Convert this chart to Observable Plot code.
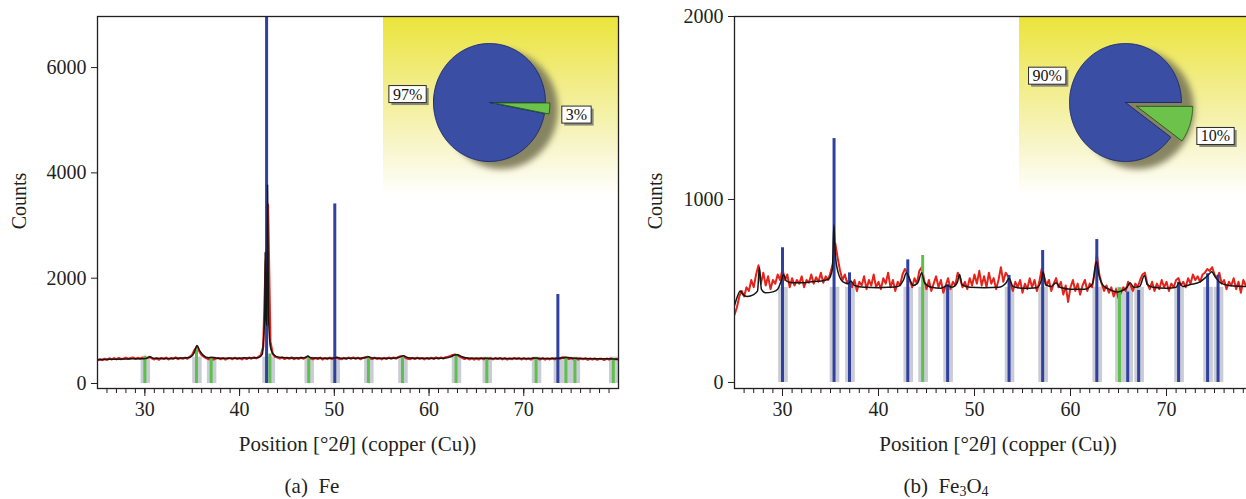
<!DOCTYPE html>
<html><head><meta charset="utf-8">
<script src="https://cdn.jsdelivr.net/npm/d3@7"></script>
<script src="https://cdn.jsdelivr.net/npm/@observablehq/plot@0.6"></script>
<style>
html,body{margin:0;padding:0;overflow:hidden;background:#fff}
body{width:1246px;height:499px;position:relative;font-family:"Liberation Serif","Times New Roman",serif;color:#231f20}
svg text{font-family:"Liberation Serif","Times New Roman",serif !important}
.panel{position:absolute;top:0;height:499px}
.lbl{position:absolute;white-space:nowrap;font-size:21px;line-height:1;color:#231f20;transform:translate(-50%,-50%)}
.rot{transform:translate(-50%,-50%) rotate(-90deg);font-size:20px}
.sub{font-size:14px;position:relative;top:3px}
.grad{position:absolute;z-index:0;background:linear-gradient(to bottom,#ebe43a 0%,#f1ec82 35%,#f7f5c6 70%,#ffffff 100%)}
</style></head><body>
<div id="a" class="panel" style="left:0;width:623px"></div>
<div id="b" class="panel" style="left:623px;width:644px"></div>
<script>
// ---------- data ----------
const thetaStart = 25, thetaStep = 0.25;   // measured scan, 25–80 °2θ
const xTicks = [30, 40, 50, 60, 70];
const feYTicks = [0, 2000, 4000, 6000];
const fe3o4YTicks = [0, 1000, 2000];

// (a) Fe — measured counts (red)
const feMeasured = [
 440,462,445,470,452,478,458,482,460,486,462,474,490,465,482,494,468,486,472,492,
 466,488,504,476,458,480,452,484,466,490,458,482,468,494,464,484,470,490,472,505,
 545,640,700,610,540,508,478,460,480,455,474,484,462,482,456,476,484,462,488,466,
 482,458,486,466,492,472,496,478,504,540,700,2300,3400,800,560,508,494,474,496,466,
 490,470,494,464,486,468,492,472,498,508,474,462,484,466,490,456,482,464,490,466,
 484,498,470,462,486,466,492,472,494,468,490,462,484,498,508,478,466,490,468,482,
 460,486,466,492,472,494,474,504,518,522,490,472,464,486,466,490,468,484,458,482,
 466,488,466,494,472,492,474,498,508,522,542,550,536,512,486,466,484,458,478,454,
 476,456,482,460,484,464,480,458,482,466,484,460,480,456,476,462,484,466,482,458,
 478,460,474,454,478,484,466,458,480,454,474,458,480,460,484,466,490,497,487,466,
 482,458,478,454,474,461,476,451,472,456,476,451,469,466,448,472,454,474,451,466,
 450];
// (a) Fe — calculated profile (black)
const feCalc = [[25,452],[26,458],[27,462],[28,466],[29,470],[29.9,472],[30.2,478],[30.55,510],[30.9,478],[32,475],[33,478],[34,482],[34.8,500],[35.2,580],[35.5,720],[35.8,620],[36.2,530],[36.7,490],[37.2,495],[37.6,480],[39,478],[40,478],[40.5,488],[41,482],[42,495],[42.4,560],[42.55,900],[42.65,1300],[42.7,2500],[42.78,1300],[42.86,1100],[42.95,3770],[43.05,1300],[43.12,1000],[43.25,700],[43.5,570],[43.9,510],[44.5,495],[46,485],[46.9,488],[47.2,520],[47.5,488],[48.5,482],[49.5,478],[50.1,485],[50.4,490],[50.8,480],[52,478],[53.3,490],[53.6,510],[54,482],[55.5,478],[56.5,482],[57.1,515],[57.3,525],[57.8,488],[59,478],[60,478],[61.5,480],[62.3,505],[62.7,540],[63,548],[63.4,515],[64,485],[65.5,478],[67,475],[69,474],[70.5,474],[71.3,486],[71.8,476],[73.5,476],[74.3,490],[74.6,494],[75,484],[76.5,474],[78,470],[79,468],[80,462]];
// (a) Fe — reference sticks
const feMainPos = [42.85, 50.05, 73.6];
const feMainCounts = [6970, 3410, 1690];
const feMinorPos = [30.0, 35.45, 37.0, 43.2, 47.3, 53.6, 57.2, 62.85, 66.1, 71.3, 74.45, 75.4, 79.45];
const feMinorCounts = [520, 660, 500, 560, 500, 510, 520, 540, 490, 490, 500, 490, 470];
const fePhaseShares = [97, 3];
const fePhaseLabels = ["97%", "3%"];

// (b) Fe3O4 — measured counts (red)
const fe3o4Measured = [
 370,410,470,500,470,520,500,560,520,590,640,540,600,530,580,510,560,540,590,560,
 620,560,590,520,570,530,560,540,580,520,560,545,590,540,575,550,600,545,580,560,
 600,650,760,680,610,560,590,540,570,520,560,500,550,530,580,510,560,530,590,520,
 550,510,570,540,600,520,560,500,550,530,590,620,600,560,520,570,540,610,630,560,
 510,560,500,540,580,520,560,490,530,570,510,550,530,600,570,520,550,510,570,530,
 590,540,610,530,580,520,600,540,570,510,560,630,550,600,580,540,500,550,520,560,
 490,540,510,570,520,560,500,550,620,580,530,560,500,540,570,520,550,480,530,440,
 520,560,500,540,480,530,560,500,540,520,600,700,590,540,500,530,490,520,470,510,
 460,490,520,500,550,530,500,540,520,560,590,600,540,510,550,500,540,510,560,520,
 550,500,540,520,560,570,530,550,520,570,540,590,560,580,550,590,600,620,610,630,
 590,570,600,540,560,510,550,530,570,510,550,490,560,530,560,500,540,520,560,510,
 540];
// (b) Fe3O4 — calculated profile (black)
const fe3o4Calc = [[25,420],[25.3,470],[25.6,500],[25.9,480],[26.3,470],[27,480],[27.4,500],[27.6,630],[27.8,510],[28.2,490],[29,495],[29.5,510],[29.9,560],[30.1,590],[30.4,555],[31,545],[32,545],[33,550],[34,555],[34.8,565],[35.2,620],[35.35,860],[35.5,700],[35.8,600],[36.3,550],[36.9,540],[37.1,555],[37.5,530],[38.5,520],[40,518],[41,520],[42,525],[42.6,560],[42.9,600],[43.2,570],[43.6,530],[44.1,545],[44.5,600],[44.8,545],[45.5,520],[46.5,515],[47.2,530],[47.6,520],[48.2,545],[48.45,590],[48.7,535],[49.5,520],[51,518],[52.5,520],[53.3,545],[53.6,570],[54,525],[55,515],[56.5,518],[57,565],[57.15,605],[57.4,535],[58,525],[58.5,545],[58.9,520],[60,510],[61.5,510],[62.3,540],[62.7,660],[63,580],[63.4,530],[64,510],[64.8,495],[65.3,500],[65.9,520],[66.2,545],[66.6,520],[67.2,525],[67.7,585],[68,535],[68.6,520],[70,515],[71,520],[71.3,545],[71.7,525],[72.5,535],[73.5,550],[74,570],[74.4,590],[74.7,605],[75.1,575],[75.6,545],[76.5,530],[78,525],[80,520]];
// (b) Fe3O4 — reference sticks
const fe3o4MainPos = [30.0, 35.37, 36.98, 43.05, 47.2, 53.6, 57.1, 62.74, 65.96, 67.1, 71.26, 74.28, 75.37, 78.9];
const fe3o4MainCounts = [736, 1333, 599, 670, 534, 585, 721, 781, 494, 503, 548, 594, 585, 520];
const fe3o4MinorPos = [44.6, 65.1];
const fe3o4MinorCounts = [694, 517];
const fe3o4PhaseShares = [90, 10];
const fe3o4PhaseLabels = ["90%", "10%"];

// ---------- styles ----------
const C = {red:"#e5231b", black:"#161616", blue:"#3040a0", green:"#5dc04a", band:"#c9ccd4",
           pieBlue:"#3a4ea3", pieGreen:"#6cc24a", shadow:"#7a7856"};

function drawPanel(cfg) {
  const host = document.getElementById(cfg.id);
  const measured = cfg.measured.map((c, i) => ({theta: thetaStart + i * thetaStep, counts: c}));
  const calc = cfg.calc.map(([t, c]) => ({theta: t, counts: c}));
  const main = cfg.mainPos.map((t, i) => ({theta: t, counts: cfg.mainCounts[i]}));
  const minor = cfg.minorPos.map((t, i) => ({theta: t, counts: cfg.minorCounts[i]}));
  const bands = main.concat(minor);
  const minorTicks = d3.range(26, 80);

  const plot = Plot.plot({
    width: cfg.width, height: 428,
    marginLeft: cfg.marginLeft, marginRight: 5, marginTop: 16, marginBottom: 40,
    x: {domain: [25, 80]},
    y: {domain: cfg.yDomain},
    style: {background: "transparent", fontSize: "20px", color: "#231f20", overflow: "visible"},
    marks: [
      Plot.rect(bands, {x1: d => d.theta - 0.4, x2: d => d.theta + 0.6, y1: 0, y2: cfg.bandTop, fill: C.band}),
      Plot.line(measured, {x: "theta", y: "counts", stroke: C.red, strokeWidth: cfg.redWidth, clip: true}),
      Plot.ruleX(minor, {x: "theta", y1: 0, y2: "counts", stroke: C.green, strokeWidth: 3, clip: true}),
      Plot.ruleX(main, {x: "theta", y1: 0, y2: "counts", stroke: C.blue, strokeWidth: 3, clip: true}),
      Plot.line(calc, {x: "theta", y: "counts", stroke: C.black, strokeWidth: 1.5, curve: "monotone-x", clip: true}),
      Plot.frame({stroke: "#231f20", strokeWidth: 1.3}),
      Plot.axisX({ticks: minorTicks, tickSize: 5, tickFormat: () => "", label: null}),
      Plot.axisX({ticks: xTicks, tickSize: 8, tickPadding: 5, tickFormat: d => String(d), fontSize: 20, label: null}),
      Plot.axisY({ticks: cfg.yTicks, tickSize: 6, tickPadding: 5, tickFormat: d => String(d), fontSize: 20, label: null})
    ]
  });
  plot.style.position = "absolute"; plot.style.left = "0px"; plot.style.top = "0px";
  plot.style.zIndex = 1; plot.style.maxWidth = "none";
  host.appendChild(plot);

  const sx = plot.scale("x"), sy = plot.scale("y");
  const gx0 = sx.apply(cfg.insetFrom), gx1 = sx.apply(80), gy0 = sy.apply(cfg.yDomain[1]);
  const W = Math.round(gx1 - gx0), H = 180;
  const grad = document.createElement("div");
  grad.className = "grad";
  Object.assign(grad.style, {left: gx0 + "px", top: gy0 + "px", width: W + "px", height: H + "px"});
  host.appendChild(grad);

  // ----- pie of phase shares -----
  const cx = 106, cy = 86, rx = 56, ry = 59;
  const total = d3.sum(cfg.shares);
  const aMinor = 2 * Math.PI * cfg.shares[1] / total;
  const arc = (a0, a1, ox, oy) => {
    const n = Math.max(2, Math.ceil(Math.abs(a1 - a0) / (Math.PI / 180)));
    const pts = [{x: ox, y: oy}];
    for (let i = 0; i <= n; i++) { const a = a0 + (a1 - a0) * i / n; pts.push({x: ox + Math.cos(a), y: oy + Math.sin(a)}); }
    pts.push({x: ox, y: oy});
    return pts;
  };
  const ex = cfg.explode * Math.cos(-aMinor / 2), ey = cfg.explode * Math.sin(-aMinor / 2);
  const mainSlice = arc(0, 2 * Math.PI - aMinor, 0, 0);
  const minorSlice = arc(0, -aMinor, ex, ey);
  const shadow = arc(0, 2 * Math.PI, 12 / rx, -7 / ry).slice(1, -1);
  const midMain = (2 * Math.PI - aMinor) / 2, midMinor = -aMinor / 2;
  const labels = [
    {x: 1.47 * Math.cos(midMain), y: 1.45 * Math.sin(midMain), t: cfg.labels[0]},
    {x: (1.48 + cfg.explode) * Math.cos(midMinor), y: (1.42 + cfg.explode) * Math.sin(midMinor) - 0.07, t: cfg.labels[1]}
  ];
  const pie = Plot.plot({
    width: W, height: H, margin: 0,
    x: {domain: [-cx / rx, (W - cx) / rx], axis: null},
    y: {domain: [-(H - cy) / ry, cy / ry], axis: null},
    style: {background: "transparent", overflow: "visible"},
    marks: [
      Plot.line(shadow, {x: "x", y: "y", fill: C.shadow, stroke: C.shadow, strokeWidth: 1, fillOpacity: 0.9}),
      Plot.line(mainSlice, {x: "x", y: "y", fill: C.pieBlue, stroke: "#1d2a70", strokeWidth: 1}),
      Plot.line(minorSlice, {x: "x", y: "y", fill: C.pieGreen, stroke: "#2c5d22", strokeWidth: 1}),
      Plot.text(labels, {x: "x", y: "y", text: "t", fontSize: 16, fill: "#111"})
    ]
  });
  pie.style.position = "absolute"; pie.style.left = gx0 + "px"; pie.style.top = gy0 + "px";
  pie.style.zIndex = 2; pie.style.maxWidth = "none";
  host.appendChild(pie);
  const lineGroups = pie.querySelectorAll('g[aria-label="line"]');
  if (lineGroups.length) lineGroups[0].style.filter = "blur(3px)";
  pie.querySelectorAll('g[aria-label="text"] text').forEach(t => {
    const b = t.getBBox(), tr = t.getAttribute("transform");
    const mk = (dx, fill, stroke) => {
      const r = document.createElementNS("http://www.w3.org/2000/svg", "rect");
      r.setAttribute("x", b.x - 4 + dx); r.setAttribute("y", b.y + dx);
      r.setAttribute("width", b.width + 8); r.setAttribute("height", b.height);
      r.setAttribute("fill", fill); if (stroke) { r.setAttribute("stroke", stroke); r.setAttribute("stroke-width", 1); }
      if (tr) r.setAttribute("transform", tr);
      t.parentNode.insertBefore(r, t);
    };
    mk(2.5, "#8a8a7a", null);
    mk(0, "#ffffff", "#2a2a2a");
  });

  // ----- axis labels & caption -----
  const addLbl = (html, x, y, cls) => {
    const d = document.createElement("div");
    d.className = "lbl" + (cls ? " " + cls : "");
    d.innerHTML = html; d.style.left = x + "px"; d.style.top = y + "px";
    host.appendChild(d);
  };
  addLbl("Counts", cfg.countsX, 201, "rot");
  addLbl('Position [°2<i>θ</i>] (copper (Cu))', (cfg.marginLeft + cfg.width - 5) / 2, 444);
  addLbl(cfg.caption, cfg.captionX, 486);
}

drawPanel({id: "a", width: 623, marginLeft: 97, yDomain: [-95, 6970], yTicks: feYTicks, bandTop: 500, redWidth: 2.2,
  measured: feMeasured, calc: feCalc, mainPos: feMainPos, mainCounts: feMainCounts,
  minorPos: feMinorPos, minorCounts: feMinorCounts, shares: fePhaseShares, labels: fePhaseLabels,
  insetFrom: 55.2, explode: 0.08, countsX: 19, caption: "(a)&nbsp;&nbsp;Fe", captionX: 312});
drawPanel({id: "b", width: 644, marginLeft: 111, yDomain: [-33, 2000], yTicks: fe3o4YTicks, bandTop: 520, redWidth: 2,
  measured: fe3o4Measured, calc: fe3o4Calc, mainPos: fe3o4MainPos, mainCounts: fe3o4MainCounts,
  minorPos: fe3o4MinorPos, minorCounts: fe3o4MinorCounts, shares: fe3o4PhaseShares, labels: fe3o4PhaseLabels,
  insetFrom: 54.7, explode: 0.21, countsX: 32, caption: "(b)&nbsp;&nbsp;Fe<span class='sub'>3</span>O<span class='sub'>4</span>", captionX: 323});
</script>
</body></html>
